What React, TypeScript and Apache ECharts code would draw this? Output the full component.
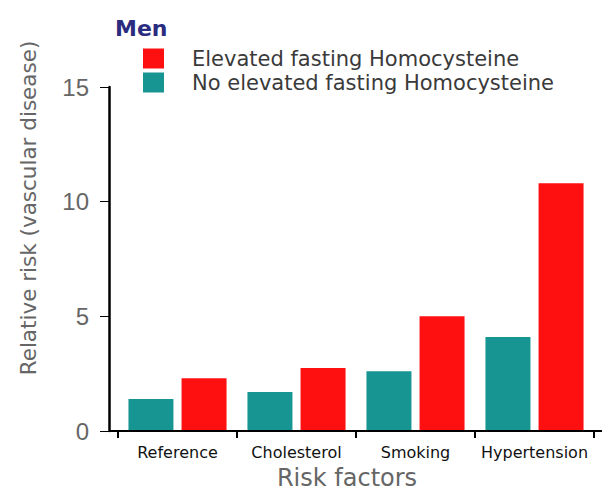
import React, { useEffect, useRef } from "react";
import * as echarts from "echarts";

const categories = ["Reference", "Cholesterol", "Smoking", "Hypertension"];
const noElevated = [1.4, 1.7, 2.6, 4.1];
const elevated = [2.3, 2.75, 5.0, 10.8];
const seriesNames = ["No elevated fasting Homocysteine", "Elevated fasting Homocysteine"];

const SANS = "DejaVu Sans, Verdana, sans-serif";
const ARIAL = "Liberation Sans, Arial, sans-serif";

export default function App() {
  const ref = useRef<HTMLDivElement>(null);
  useEffect(() => {
    const chart = echarts.init(ref.current!, null, { renderer: "svg" });
    chart.setOption({
      animation: false,
      backgroundColor: "#ffffff",
      textStyle: { fontFamily: SANS },
      title: {
        text: "Men",
        left: 110,
        top: 12,
        textStyle: { color: "#2b2b7f", fontSize: 22, fontWeight: "bold", fontFamily: SANS },
      },
      legend: {
        data: [seriesNames[1], seriesNames[0]],
        orient: "vertical",
        left: 138,
        top: 43,
        itemWidth: 21,
        itemHeight: 20,
        itemGap: 3,
        icon: "rect",
        textStyle: { fontSize: 21, lineHeight: 20, color: "#3a3a3a", fontFamily: SANS, padding: [0, 0, 0, 23] },
      },
      grid: { left: 118, top: 87, width: 476, height: 344, containLabel: false, outerBoundsMode: "none" },
      graphic: [
        {
          type: "line",
          shape: { x1: 110, y1: 431, x2: 602, y2: 431 },
          style: { stroke: "#000", lineWidth: 2 },
          z: 10,
        },
      ],
      xAxis: {
        type: "category",
        data: categories,
        name: "Risk factors",
        nameLocation: "middle",
        nameGap: 35,
        nameTextStyle: { fontSize: 24, color: "#666", fontFamily: SANS, padding: [0, 18, 0, 0] },
        axisLine: { lineStyle: { color: "#000", width: 2 } },
        axisTick: { show: true, length: 7, lineStyle: { color: "#000", width: 2 } },
        axisLabel: { fontSize: 16, color: "#111", margin: 13, fontFamily: SANS, interval: 0 },
      },
      yAxis: {
        type: "value",
        min: 0,
        max: 15,
        interval: 5,
        offset: 9,
        name: "Relative risk (vascular disease)",
        nameLocation: "middle",
        nameGap: 70,
        nameTextStyle: { fontSize: 21.5, color: "#666", fontFamily: SANS, padding: [0, 0, 0, 102] },
        splitLine: { show: false },
        axisLine: { show: true, lineStyle: { color: "#000", width: 2.5 } },
        axisTick: { show: true, length: 9, lineStyle: { color: "#000", width: 1 } },
        axisLabel: { fontSize: 24, color: "#666", margin: 20, fontFamily: ARIAL },
      },
      series: [
        {
          name: seriesNames[0],
          type: "bar",
          data: noElevated,
          barWidth: 45,
          barGap: "18%",
          itemStyle: { color: "#179592" },
        },
        {
          name: seriesNames[1],
          type: "bar",
          data: elevated,
          barWidth: 45,
          barGap: "18%",
          itemStyle: { color: "#ff1010" },
        },
      ],
    });
    return () => chart.dispose();
  }, []);
  return <div ref={ref} style={{ width: 615, height: 493, position: "absolute", left: 0, top: 0 }} />;
}
